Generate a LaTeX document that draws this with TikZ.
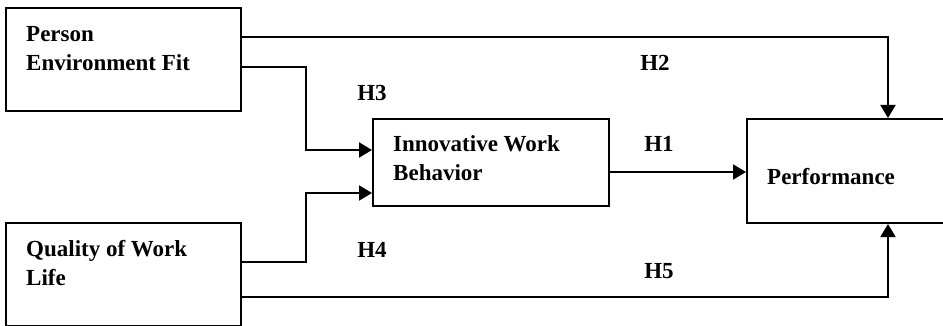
\documentclass[tikz,border=0pt]{standalone}
\usepackage{fontspec}
\setmainfont{Liberation Serif}
\usetikzlibrary{arrows.meta,calc}
\begin{document}
\begin{tikzpicture}[x=1pt,y=-1pt,
  box/.style={draw,line width=2pt,rectangle,inner sep=0pt,anchor=north west},
  lbl/.style={anchor=base west,inner sep=0pt,font=\fontsize{23}{27}\selectfont\bfseries},
  hyp/.style={anchor=base,inner sep=0pt,font=\fontsize{23}{27}\selectfont\bfseries},
  arr/.style={line width=2pt,-{Triangle[length=13pt,width=15pt]}},
  ln/.style={line width=2pt}]
\useasboundingbox (0,0) rectangle (943,326);
% boxes
\node[box,minimum width=235pt,minimum height=103pt] (pef) at (5,7) {};
\node[box,minimum width=235pt,minimum height=103pt] (qwl) at (5,222) {};
\node[box,minimum width=236pt,minimum height=87pt] (iwb) at (372,118) {};
\node[box,minimum width=200pt,minimum height=104pt] (perf) at (746,118) {};
% texts
\node[lbl] (t1) at (26,42) {Person};
\node[lbl] (t2) at (26,71) {Environment Fit};
\node[lbl] (t3) at (26,256) {Quality of Work};
\node[lbl] (t4) at (26,285) {Life};
\node[lbl] (t5) at (393,152) {Innovative Work};
\node[lbl] (t6) at (393,181) {Behavior};
\node[lbl] (t7) at (767,185) {Performance};
% hypothesis labels
\node[hyp] (h2) at (655,71) {H2};
\node[hyp] (h3) at (372,101) {H3};
\node[hyp] (h1) at (659,152) {H1};
\node[hyp] (h4) at (372,257) {H4};
\node[hyp] (h5) at (659,278) {H5};
% coordinates
\coordinate (a1) at (pef.east |- 0,37);
\coordinate (a2) at (pef.east |- 0,67);
\coordinate (b1) at (qwl.east |- 0,262);
\coordinate (b2) at (qwl.east |- 0,297);
\coordinate (c1) at (306,150);
\coordinate (c2) at (306,193);
\coordinate (d1) at (888,37);
\coordinate (d2) at (888,297);
% connectors
\draw[arr] (a1) -- (d1) -- (d1 |- perf.north);
\draw[arr] (a2) -| (c1) -- (c1 -| iwb.west);
\draw[arr] (b1) -| (c2) -- (c2 -| iwb.west);
\draw[arr] (b2) -- (d2) -- (d2 |- perf.south);
\draw[arr] (iwb.east |- 0,172) -- (perf.west |- 0,172);
\end{tikzpicture}
\end{document}
